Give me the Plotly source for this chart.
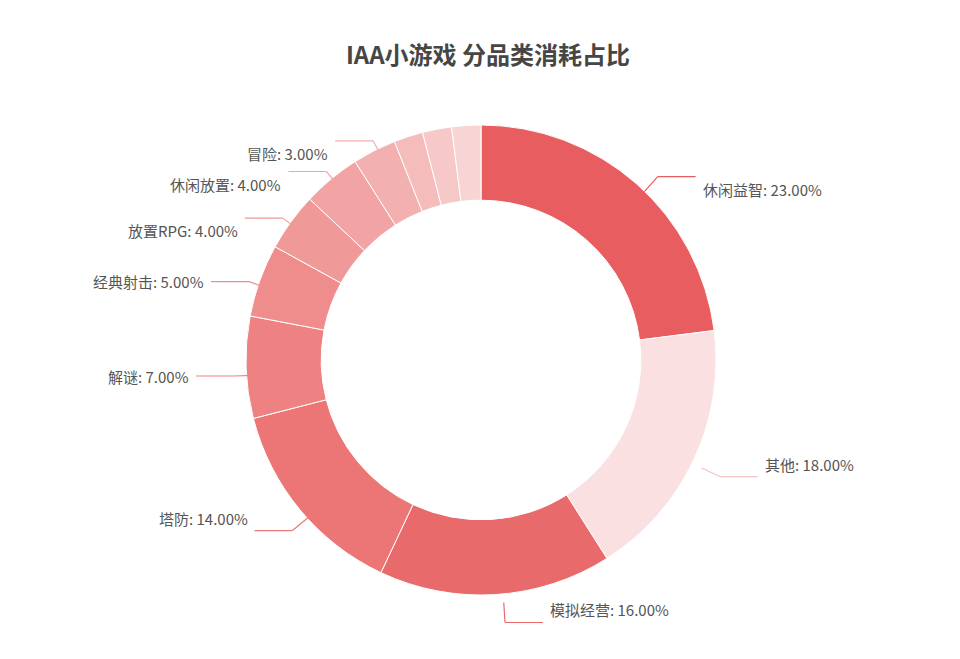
import numpy as np
import plotly.graph_objects as go

title = "IAA小游戏 分品类消耗占比"
names = ["休闲益智", "其他", "模拟经营", "塔防", "解谜", "经典射击", "放置RPG", "休闲放置", "冒险", "其他品类A", "其他品类B", "其他品类C"]
values = [23, 18, 16, 14, 7, 5, 4, 4, 3, 2, 2, 2]
colors = ["#e85e60", "#fae0e0", "#e86a6a", "#ec7676", "#ee8181", "#ef8c8c", "#f09999",
          "#f2a4a4", "#f3b0b0", "#f5bcbc", "#f7c8c8", "#f8d5d5"]

W, H = 960, 659
cx, cy, R = 481, 360, 235
# plotly draws the pie a few px right/down of the domain centre; compensate
dx, dy = -8, -8

fig = go.Figure()
fig.add_trace(go.Pie(
    labels=names, values=values, sort=False, direction="clockwise", rotation=0,
    hole=0.68, textinfo="none", hoverinfo="label+percent",
    marker=dict(colors=colors, line=dict(color="white", width=1)),
    domain=dict(x=[(cx + dx - R) / W, (cx + dx + R) / W],
                y=[1 - (cy + dy + R) / H, 1 - (cy + dy - R) / H]),
    showlegend=False,
))

total = sum(values)
cum = np.cumsum([0] + values[:-1])
shapes, annotations = [], []
for name, v, c, col in zip(names, values, cum, colors):
    if v < 3:
        continue
    ang = 2 * np.pi * (c + v / 2) / total
    sx, sy = cx + R * np.sin(ang), cy - R * np.cos(ang)
    ex, ey = cx + (R + 20) * np.sin(ang), cy - (R + 20) * np.cos(ang)
    side = 1 if np.sin(ang) >= 0 else -1
    hx = ex + side * 38
    lc = col if col != "#fae0e0" else "#f3c4c4"
    for (x0, y0, x1, y1) in [(sx, sy, ex, ey), (ex, ey, hx, ey)]:
        shapes.append(dict(type="line", xref="paper", yref="paper",
                           x0=x0 / W, y0=1 - y0 / H, x1=x1 / W, y1=1 - y1 / H,
                           line=dict(color=lc, width=1.2)))
    annotations.append(dict(x=(hx + side * 5) / W, y=1 - ey / H, xref="paper", yref="paper",
                            text=f"{name}: {v / total * 100:.2f}%", showarrow=False,
                            xanchor="left" if side > 0 else "right",
                            font=dict(size=15, color="#555555")))

fig.update_layout(
    width=W, height=H, margin=dict(l=0, r=0, t=0, b=0),
    paper_bgcolor="white", plot_bgcolor="white",
    font=dict(family="Noto Sans CJK SC, sans-serif"),
    title=dict(text=f"<b>{title}</b>", x=0.5, xanchor="center", y=1 - 48 / H, yanchor="middle",
               font=dict(size=24, color="#464646")),
    shapes=shapes, annotations=annotations,
)
fig.write_html("out.html")
